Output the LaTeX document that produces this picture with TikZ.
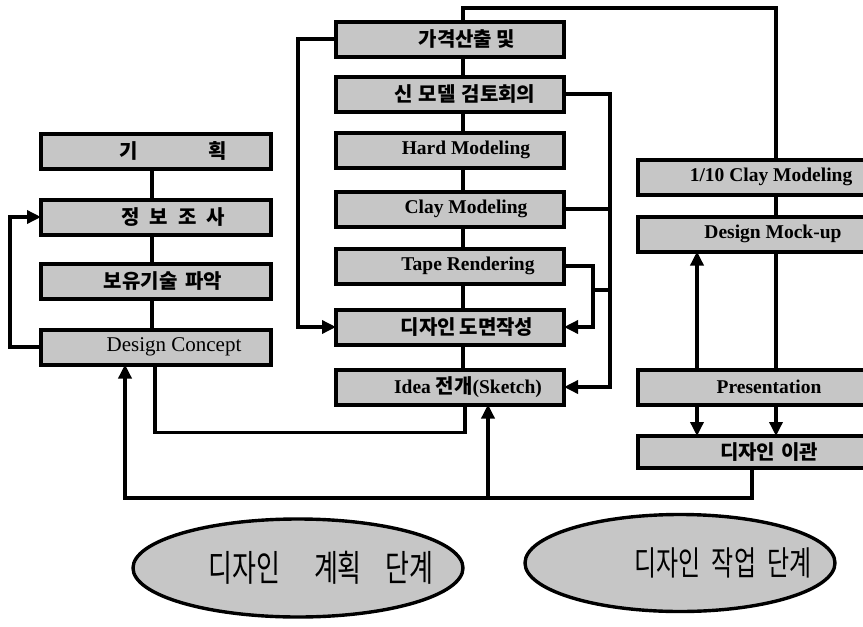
\documentclass[tikz,border=0pt]{standalone}
\usepackage{fontspec}
\usepackage{graphicx}
\setmainfont{Liberation Serif}
\newfontfamily\kr{Noto Sans CJK KR}
\usetikzlibrary{arrows.meta,calc,shapes.geometric}
\newcommand{\sh}[2]{\makebox[0pt]{\hspace*{#1}#2}}
\newcommand{\ko}[1]{{\kr\fontsize{20}{21}\selectfont #1}}
\newcommand{\ekr}[2]{\scalebox{1}[1.4]{\kr\fontsize{#1}{#1}\selectfont #2}}
\begin{document}
\begin{tikzpicture}[x=1pt,y=-1pt,
  box/.style={draw, line width=4pt, fill=gray!45, inner sep=0pt, outer sep=0pt,
    minimum height=35pt, font=\bfseries\fontsize{19.5}{21}\selectfont},
  lbox/.style={box, minimum width=230pt},
  mbox/.style={box, minimum width=228pt},
  rbox/.style={box, minimum width=232pt},
  ln/.style={line width=3.4pt},
  arr/.style={ln, -{Triangle[length=14pt,width=13pt]}},
  oval/.style={ellipse, draw, line width=3.4pt, fill=gray!45, inner sep=0pt}]
\fill[white] (0,0) rectangle (863,627);
\useasboundingbox (0,0) rectangle (863,627);

% left column
\node[lbox] (L1) at (156,151) {\sh{34pt}{\ko{기\hspace{70pt}획}}};
\node[lbox] (L2) at (156,217) {\sh{34pt}{\ko{정\hspace{10pt}보\hspace{10pt}조\hspace{10pt}사}}};
\node[lbox] (L3) at (156,281) {\sh{14pt}{\ko{보유기술\hspace{8pt}파악}}};
\node[lbox] (L4) at (156,347) {\sh{36pt}{\mdseries\fontsize{21}{22}\selectfont Design Concept}};

% middle column
\node[mbox] (M1) at (450,39) {\sh{34pt}{\ko{가격산출 및}}};
\node[mbox] (M2) at (450,94) {\sh{30pt}{\ko{신\hspace{6pt}모델\hspace{6pt}검토회의}}};
\node[mbox] (M3) at (450,150) {\sh{32pt}{Hard Modeling}};
\node[mbox] (M4) at (450,209) {\sh{32pt}{Clay Modeling}};
\node[mbox] (M5) at (450,266) {\sh{36pt}{Tape Rendering}};
\node[mbox] (M6) at (450,327) {\sh{34pt}{\ko{디자인\hspace{4pt}도면작성}}};
\node[mbox] (M7) at (450,387) {\sh{36pt}{Idea \ko{전개}(Sketch)}};

% right column
\node[rbox] (R1) at (754,177) {\sh{34pt}{1/10 Clay Modeling}};
\node[rbox] (R2) at (754,234) {\sh{38pt}{Design Mock-up}};
\node[rbox] (R3) at (754,387) {\sh{30pt}{Presentation}};
\node[rbox, minimum height=32pt] (R4) at (754,452) {\sh{30pt}{\ko{디자인\hspace{6pt}이관}}};

% ovals
\node[oval, minimum width=330pt, minimum height=98pt] (E1) at (298,568)
  {\sh{46pt}{\ekr{26}{디자인\hspace{34pt}계획\hspace{24pt}단계}}};
\node[oval, minimum width=310pt, minimum height=97pt] (E2) at (680,563)
  {\sh{86pt}{\ekr{24}{디자인\hspace{11pt}작업\hspace{11pt}단계}}};

% left column connectors
\foreach \a/\b in {L1/L2,L2/L3,L3/L4}
  \draw[ln] ($(\a.south)+(-4,0)$) -- ($(\b.north)+(-4,0)$);
\draw[arr] (L4.west) -- ++(-31,0) |- (L2.west);
\draw[ln] ($(L4.south)+(-1,0)$) -- ++(0,68) -| ($(M7.south)+(15,0)$);

% middle column connectors
\foreach \a/\b in {M1/M2,M2/M3,M3/M4,M4/M5,M5/M6,M6/M7}
  \draw[ln] ($(\a.south)+(13,0)$) -- ($(\b.north)+(13,0)$);
\draw[arr] (M1.west) -- ++(-38,0) |- (M6.west);
\draw[arr] (M2.east) -- ++(46,0) coordinate (vr) |- (M7.east);
\draw[ln] (M4.east) -- (M4.east -| vr);
\draw[arr] (M5.east) -- ++(29,0) coordinate (vt) |- (M6.east);
\draw[ln] ($(vt)+(0,24)$) -- ($(vr)+(0,196)$);

% top link to right column
\coordinate (tl) at (463,8);
\coordinate (tr) at (776,8);
\draw[ln] ($(M1.north)+(13,0)$) -- (tl) -- (tr) -- ($(R1.north)+(22,0)$);

% right column connectors
\draw[ln] ($(R1.south)+(22,0)$) -- ($(R2.north)+(22,0)$);
\draw[ln] ($(R2.south)+(22,0)$) -- ($(R3.north)+(22,0)$);
\draw[arr] ($(R3.south)+(22,0)$) -- ($(R4.north)+(22,0)$);
\draw[arr] ($(R3.north)+(-57,0)$) -- ($(R2.south)+(-57,0)$);
\draw[arr] ($(R3.south)+(-57,0)$) -- ($(R4.north)+(-57,0)$);

% bottom feedback
\draw[arr] ($(R4.south)+(-2,0)$) -- ++(0,30) -| ($(L4.south)+(-31,0)$);
\coordinate (bj) at (488,498);
\draw[arr] (bj) -- (bj |- M7.south);
\end{tikzpicture}
\end{document}
